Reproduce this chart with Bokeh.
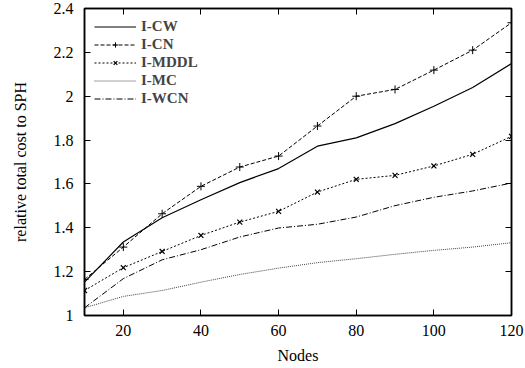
from bokeh.plotting import figure
from bokeh.models import LinearAxis, Legend, LegendItem, FixedTicker, Range1d
from bokeh.embed import file_html
from bokeh.resources import INLINE

nodes = [10, 20, 30, 40, 50, 60, 70, 80, 90, 100, 110, 120]
i_cw = [1.152, 1.335, 1.446, 1.528, 1.606, 1.670, 1.772, 1.810, 1.875, 1.954, 2.040, 2.149]
i_cn = [1.164, 1.312, 1.464, 1.589, 1.677, 1.727, 1.864, 2.000, 2.031, 2.119, 2.210, 2.335]
i_mddl = [1.114, 1.218, 1.292, 1.365, 1.426, 1.475, 1.563, 1.621, 1.639, 1.682, 1.735, 1.817]
i_mc = [1.035, 1.087, 1.114, 1.152, 1.187, 1.216, 1.241, 1.259, 1.279, 1.297, 1.312, 1.332]
i_wcn = [1.035, 1.168, 1.254, 1.300, 1.358, 1.399, 1.416, 1.449, 1.501, 1.539, 1.568, 1.604]

x_ticks = [20, 40, 60, 80, 100, 120]
y_ticks = [1.0, 1.2, 1.4, 1.6, 1.8, 2.0, 2.2, 2.4]

FONT = "Liberation Serif"

p = figure(width=525, height=368, output_backend="svg", toolbar_location=None,
           x_range=Range1d(10, 120), y_range=Range1d(1.0, 2.4),
           min_border_left=84, min_border_right=14, min_border_top=8, min_border_bottom=53)
p.xgrid.visible = False
p.ygrid.visible = False
p.outline_line_color = "black"
p.outline_line_width = 1.5
p.background_fill_color = "white"
p.border_fill_color = "white"

def style_axis(ax, labels=True):
    ax.major_tick_in = 6
    ax.major_tick_out = 0
    ax.minor_tick_in = 0
    ax.minor_tick_out = 0
    ax.axis_line_color = "black"
    ax.axis_line_width = 1.5
    ax.major_tick_line_width = 1
    ax.major_label_text_font = FONT
    ax.major_label_text_font_size = "16px"
    ax.major_label_text_color = "black"
    ax.axis_label_text_font = FONT
    ax.axis_label_text_font_size = "16px"
    ax.axis_label_text_font_style = "normal"
    ax.axis_label_text_color = "black"
    if not labels:
        ax.major_label_text_font_size = "0px"
        ax.major_label_text_alpha = 0

xa = p.xaxis[0]
xa.ticker = FixedTicker(ticks=x_ticks)
xa.axis_label = "Nodes"
style_axis(xa)
xa.major_label_standoff = 9
xa.axis_label_standoff = 8

ya = p.yaxis[0]
ya.ticker = FixedTicker(ticks=y_ticks)
ya.axis_label = "relative total cost to SPH"
ya.major_label_overrides = {1.0: "1", 2.0: "2"}
style_axis(ya)
ya.major_label_standoff = 11
ya.axis_label_standoff = 22

top = LinearAxis(ticker=FixedTicker(ticks=x_ticks))
style_axis(top, labels=False)
p.add_layout(top, "above")
right = LinearAxis(ticker=FixedTicker(ticks=y_ticks))
style_axis(right, labels=False)
p.add_layout(right, "right")

r_cw = p.line(nodes, i_cw, line_color="black", line_width=1.2)
r_cn = p.line(nodes, i_cn, line_color="black", line_width=1, line_dash="4 2")
m_cn = p.scatter(nodes, i_cn, marker="cross", size=8, line_color="black", line_width=1)
r_mddl = p.line(nodes, i_mddl, line_color="black", line_width=1, line_dash="2 2")
m_mddl = p.scatter(nodes, i_mddl, marker="x", size=7, line_color="black", line_width=1.2)
r_mc = p.line(nodes, i_mc, line_color="#444444", line_width=1, line_dash="1 1")
r_wcn = p.line(nodes, i_wcn, line_color="black", line_width=1, line_dash="6 2 1 2")

legend = Legend(items=[
    LegendItem(label="I-CW", renderers=[r_cw]),
    LegendItem(label="I-CN", renderers=[r_cn, m_cn]),
    LegendItem(label="I-MDDL", renderers=[r_mddl, m_mddl]),
    LegendItem(label="I-MC", renderers=[r_mc]),
    LegendItem(label="I-WCN", renderers=[r_wcn]),
], location="top_left")
legend.border_line_alpha = 0
legend.background_fill_alpha = 0
legend.label_text_font = FONT
legend.label_text_font_style = "bold"
legend.label_text_font_size = "15px"
legend.label_height = 13
legend.glyph_height = 13
legend.glyph_width = 42
legend.spacing = 1
legend.padding = 4
legend.margin = 6
p.add_layout(legend)

open("out.html", "w").write(file_html(p, INLINE))
